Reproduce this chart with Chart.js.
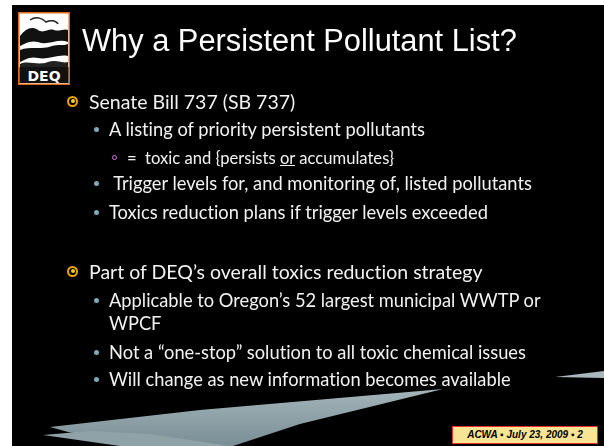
<!DOCTYPE html>
<html>
<head>
<meta charset="utf-8">
<script src="https://cdn.jsdelivr.net/npm/chart.js@4.4.0/dist/chart.umd.min.js"></script>
<style>
  body { margin: 0; background: #fff; width: 604px; height: 446px; overflow: hidden; position: relative; }
  #slide { position: absolute; left: 12px; top: 5px; width: 592px; height: 441px; background: #000; }
  #swoosh { position: absolute; left: 0; top: 0; }
  .txt { position: absolute; color: #f2f2f2; white-space: nowrap; font-family: Lato, "Open Sans", sans-serif; font-variant-ligatures: none; }
  #title { left: 82px; top: 23px; font-family: "Liberation Sans", Arial, sans-serif; font-size: 30.8px; color: #fff; }
  .l1 { font-size: 19.5px; left: 89px; }
  .l2 { font-size: 18.3px; left: 109px; }
  .l3 { font-size: 16.6px; left: 127px; }
  .b1 { position: absolute; width: 7px; height: 7px; border: 2px solid #f0a400; border-radius: 50%; }
  .b1::after { content: ""; position: absolute; left: 1.5px; top: 1.5px; width: 4px; height: 4px; border-radius: 50%; background: #ffd000; }
  .b2 { position: absolute; width: 5px; height: 5px; border-radius: 50%; background: #7fa9b8; }
  .b3 { position: absolute; width: 3px; height: 3px; border: 1.5px solid #e070e0; border-radius: 50%; }
  #foot { position: absolute; left: 452px; top: 426px; width: 144px; height: 16px; background: #f7e594; border: 1px solid #e8302a; font: italic bold 10px "Liberation Sans", Arial, sans-serif; color: #000; text-align: center; line-height: 16px; }
  #logo { position: absolute; left: 18px; top: 12px; }
</style>
</head>
<body>
<div id="slide"></div>
<canvas id="swoosh" width="604" height="446"></canvas>

<svg id="logo" width="52" height="73" viewBox="0 0 52 73">
  <rect x="0.75" y="0.75" width="50.5" height="71.5" fill="#fff" stroke="#e06a1a" stroke-width="1.5"/>
  <path d="M2 24 C8 16 14 14 20 18 C26 22 30 16 36 18 C42 20 46 16 50 18 L50 30 C40 26 30 34 20 30 C12 28 6 32 2 34 Z" fill="#111"/>
  <path d="M2 38 C12 34 24 38 34 34 C40 32 46 34 50 32 L50 44 C40 42 30 48 20 46 C12 44 6 48 2 50 Z" fill="#111"/>
  <path d="M2 52 C10 48 20 54 30 50 C38 47 46 52 50 50 L50 55 L2 55 Z" fill="#222"/>
  <path d="M12 8 C18 4 24 6 28 10 C32 8 38 8 40 12" fill="none" stroke="#222" stroke-width="1.5"/>
  <rect x="1.5" y="55" width="49" height="16" fill="#111"/>
  <text x="26" y="69" text-anchor="middle" font-family="DejaVu Sans" font-weight="bold" font-size="14" fill="#fff">DEQ</text>
</svg>

<div id="title" class="txt">Why a Persistent Pollutant List?</div>
<div id="body"></div>
<div id="foot">ACWA ▪ July 23, 2009 ▪ 2</div>

<script>
// bullet lines: level and text, with their vertical centre on the slide
var lineLevels = [1, 2, 3, 2, 2, 1, 2, 0, 2, 2];
var lineTexts = [
  'Senate Bill 737 (SB 737)',
  'A listing of priority persistent pollutants',
  '=&nbsp;&nbsp;toxic and {persists <u>or</u> accumulates}',
  '&nbsp;Trigger levels for, and monitoring of, listed pollutants',
  'Toxics reduction plans if trigger levels exceeded',
  'Part of DEQ\u2019s overall toxics reduction strategy',
  'Applicable to Oregon\u2019s 52 largest municipal WWTP or',
  'WPCF',
  'Not a \u201cone-stop\u201d solution to all toxic chemical issues',
  'Will change as new information becomes available'
];
var lineY = [101, 129, 158, 183, 212, 271, 300, 323, 352, 379];

// swoosh outlines (x, y in page pixels)
var lowerSheetX = [43, 90, 150, 230, 120, 43];
var lowerSheetY = [435, 431, 434, 446, 446, 435];
var upperSheetX = [50, 200, 443, 300, 233, 140, 68, 50];
var upperSheetY = [427, 410, 389, 424, 446, 446, 432, 427];
var rightSheetX = [555, 604, 604, 555];
var rightSheetY = [377, 371, 378, 377];

var body = document.getElementById('body');
lineTexts.forEach(function (t, i) {
  var lvl = lineLevels[i];
  var el = document.createElement('div');
  el.className = 'txt ' + (lvl === 1 ? 'l1' : lvl === 3 ? 'l3' : 'l2');
  el.innerHTML = t;
  body.appendChild(el);
  el.style.top = (lineY[i] - el.offsetHeight / 2) + 'px';
  if (lvl > 0) {
    var b = document.createElement('div');
    b.className = 'b' + lvl;
    var bx = lvl === 1 ? 67 : lvl === 2 ? 94 : 112;
    var bs = lvl === 1 ? 11 : lvl === 2 ? 5 : 6;
    b.style.left = bx + 'px';
    b.style.top = (lineY[i] - bs / 2) + 'px';
    body.appendChild(b);
  }
});

function toPoints(xs, ys) {
  return xs.map(function (x, i) { return {x: x, y: ys[i]}; });
}

function sheetFill(context) {
  var chart = context.chart;
  var g = chart.ctx.createLinearGradient(0, 370, 0, 446);
  g.addColorStop(0, '#b3c2c7');
  g.addColorStop(1, '#788e95');
  return g;
}

var ctx = document.getElementById('swoosh').getContext('2d');
new Chart(ctx, {
  type: 'scatter',
  data: {
    datasets: [
      {data: toPoints(lowerSheetX, lowerSheetY), showLine: true, fill: 'shape', backgroundColor: '#8fa2a8', borderWidth: 0, pointRadius: 0},
      {data: toPoints(upperSheetX, upperSheetY), showLine: true, fill: 'shape', backgroundColor: sheetFill, borderWidth: 0, pointRadius: 0},
      {data: toPoints(rightSheetX, rightSheetY), showLine: true, fill: 'shape', backgroundColor: '#a8b8bd', borderWidth: 0, pointRadius: 0}
    ]
  },
  options: {
    responsive: false,
    animation: false,
    events: [],
    layout: {padding: 0},
    plugins: {legend: {display: false}, tooltip: {enabled: false}},
    scales: {
      x: {type: 'linear', min: 0, max: 604, display: false},
      y: {type: 'linear', min: 0, max: 446, reverse: true, display: false}
    }
  }
});
</script>
</body>
</html>
